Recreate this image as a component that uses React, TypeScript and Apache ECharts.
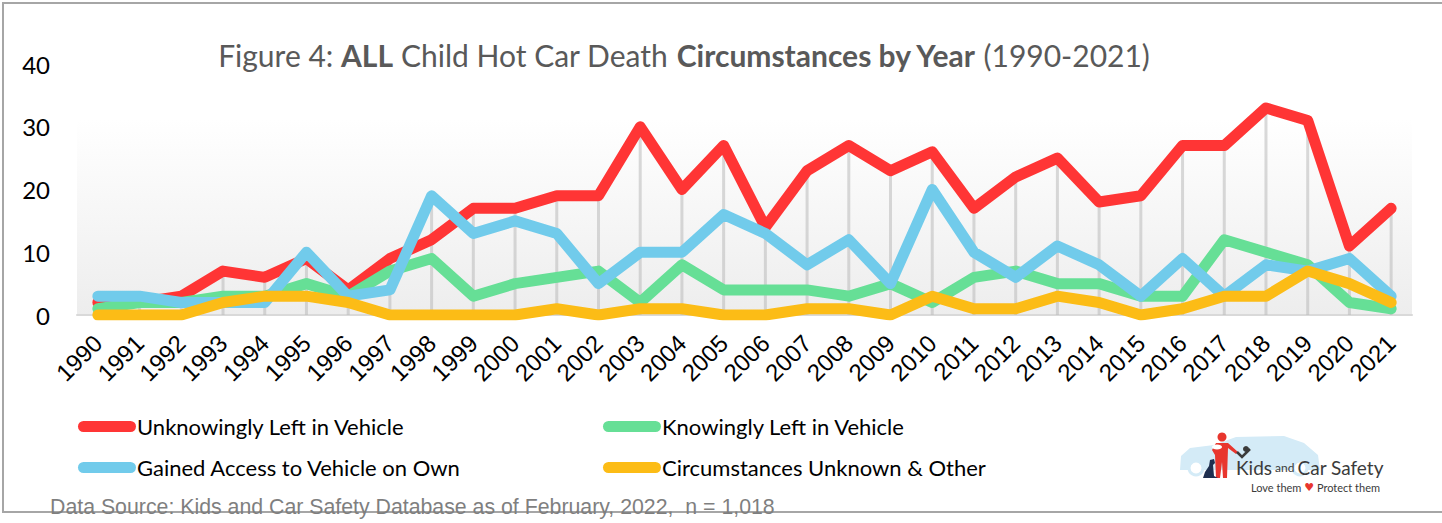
import React, { useEffect, useRef } from "react";
import * as echarts from "echarts";

const years = ["1990","1991","1992","1993","1994","1995","1996","1997","1998","1999","2000","2001","2002","2003","2004","2005","2006","2007","2008","2009","2010","2011","2012","2013","2014","2015","2016","2017","2018","2019","2020","2021"];
const unknowingly = [2,2,3,7,6,9,4,9,12,17,17,19,19,30,20,27,14,23,27,23,26,17,22,25,18,19,27,27,33,31,11,17];
const knowingly = [1,2,2,3,3,5,3,7,9,3,5,6,7,2,8,4,4,4,3,5,2,6,7,5,5,3,3,12,10,8,2,1];
const gainedAccess = [3,3,2,2,2,10,3,4,19,13,15,13,5,10,10,16,13,8,12,5,20,10,6,11,8,3,9,3,8,7,9,3];
const unknownOther = [0,0,0,2,3,3,2,0,0,0,0,1,0,1,1,0,0,1,1,0,3,1,1,3,2,0,1,3,3,7,5,2];
const yTicks = [0, 10, 20, 30, 40];

const seriesNames = [
  "Unknowingly Left in Vehicle",
  "Knowingly Left in Vehicle",
  "Gained Access to Vehicle on Own",
  "Circumstances Unknown & Other",
];
const seriesColors = ["#FF3535", "#66DF96", "#71CBEB", "#FCBC16"];

const CAL = "Lato, 'Open Sans', sans-serif";
const capsule = "path://M5.5,0 L52.5,0 A5.5,5.5 0 0 1 52.5,11 L5.5,11 A5.5,5.5 0 0 1 5.5,0 Z";

export default function App() {
  const ref = useRef<HTMLDivElement>(null);
  useEffect(() => {
    if (!ref.current) return;
    const chart = echarts.init(ref.current, null, { renderer: "svg" });
    const all = [unknowingly, knowingly, gainedAccess, unknownOther];
    const dropTops = years.map((_, i) => Math.max(...all.map((s) => s[i])));
    const lineSeries = all.map((d, i) => ({
      name: seriesNames[i],
      type: "line",
      data: d,
      symbol: "none",
      z: 3 + i,
      lineStyle: { color: seriesColors[i], width: 11, cap: "round", join: "round" },
      itemStyle: { color: seriesColors[i] },
    }));
    const legendBase = {
      orient: "vertical",
      top: 414,
      padding: 0,
      itemWidth: 58,
      itemHeight: 11,
      itemGap: 16,
      icon: capsule,
      textStyle: { fontFamily: CAL, fontSize: 22, color: "#000", lineHeight: 25, padding: [0, 0, 0, -4] },
      selectedMode: false,
    };
    chart.setOption({
      animation: false,
      backgroundColor: "#ffffff",
      title: {
        text: "{n|Figure 4: }{b|ALL}{n| Child Hot Car Death }{b|Circumstances by Year}{n| (1990-2021)}",
        left: 679,
        top: 35,
        textAlign: "center",
        textStyle: {
          rich: {
            n: { fontFamily: CAL, fontSize: 30, color: "#595959", fontWeight: "normal" },
            b: { fontFamily: CAL, fontSize: 30, color: "#595959", fontWeight: "bold" },
          },
        },
      },
      legend: [
        { ...legendBase, left: 78, data: [seriesNames[0], seriesNames[2]] },
        { ...legendBase, left: 603, data: [seriesNames[1], seriesNames[3]] },
      ],
      grid: {
        left: 77,
        right: 30,
        top: 64,
        bottom: 208,
        show: true,
        borderWidth: 0,
        backgroundColor: new echarts.graphic.LinearGradient(0, 0, 0, 1, [
          { offset: 0, color: "#ffffff" },
          { offset: 0.22, color: "#ffffff" },
          { offset: 1, color: "#ededed" },
        ]),
      },
      xAxis: {
        type: "category",
        data: years,
        boundaryGap: true,
        axisLine: { show: true, lineStyle: { color: "#d9d9d9", width: 2 } },
        axisTick: { show: false },
        axisLabel: {
          rotate: 45,
          interval: 0,
          margin: 24,
          fontFamily: "'Liberation Sans', Arial, sans-serif",
          fontSize: 24,
          color: "#000",
        },
        splitLine: { show: false },
      },
      yAxis: {
        type: "value",
        min: yTicks[0],
        max: yTicks[yTicks.length - 1],
        interval: 10,
        axisLine: { show: false },
        axisTick: { show: false },
        splitLine: { show: false },
        axisLabel: { fontFamily: CAL, fontSize: 24, color: "#000", margin: 27 },
      },
      series: [
        {
          name: "drop",
          type: "bar",
          data: dropTops,
          barWidth: 3,
          silent: true,
          z: 1,
          itemStyle: { color: "rgba(185,185,185,0.55)" },
        },
        ...lineSeries,
      ],
      graphic: [
        {
          type: "rect",
          shape: { x: 3, y: 3, width: 1445, height: 509 },
          style: { fill: "none", stroke: "#a6a6a6", lineWidth: 2 },
          silent: true,
        },
        {
          type: "text",
          x: 50,
          y: 507,
          style: {
            text: "Data Source: Kids and Car Safety Database as of February, 2022,  n = 1,018",
            fontFamily: "'Liberation Sans', Arial, sans-serif",
            fontSize: 21.3,
            fill: "#7f7f7f",
            verticalAlign: "middle",
          },
        },
        {
          type: "group",
          children: [
            {
              type: "polygon",
              shape: {
                points: [[1180, 470], [1181, 456], [1190, 448], [1214, 445], [1236, 437], [1284, 436], [1304, 443], [1318, 455], [1320, 470]],
              },
              style: { fill: "#d4ebf7" },
            },
            { type: "circle", shape: { cx: 1196, cy: 468, r: 7 }, style: { fill: "#fff", stroke: "#d4ebf7", lineWidth: 3 } },
            { type: "circle", shape: { cx: 1300, cy: 468, r: 7 }, style: { fill: "#fff", stroke: "#d4ebf7", lineWidth: 3 } },
            { type: "circle", shape: { cx: 1222, cy: 437, r: 4.5 }, style: { fill: "#e8362e" } },
            {
              type: "polygon",
              shape: { points: [[1216, 443], [1228, 443], [1238, 452], [1236, 454], [1228, 448], [1227, 478], [1223, 478], [1222, 462], [1220, 478], [1216, 478], [1215, 455], [1212, 450]] },
              style: { fill: "#e8362e" },
            },
            { type: "ellipse", shape: { cx: 1217, cy: 447, rx: 5, ry: 2.5 }, style: { fill: "#fff" } },
            { type: "circle", shape: { cx: 1246, cy: 449, r: 3 }, style: { fill: "#3b3b3b" } },
            { type: "polyline", shape: { points: [[1237, 452], [1242, 457], [1250, 449]] }, style: { stroke: "#3b3b3b", lineWidth: 2.5, fill: "none" } },
            {
              type: "polygon",
              shape: { points: [[1210, 460], [1214, 459], [1215, 463], [1213, 465], [1214, 476], [1218, 478], [1203, 478], [1205, 472], [1209, 466]] },
              style: { fill: "#1f2f4f" },
            },
            {
              type: "text",
              x: 1236,
              y: 477,
              style: {
                text: "{k|Kids}{s| and }{k|Car Safety}",
                verticalAlign: "bottom",
                rich: {
                  k: { fontFamily: CAL, fontSize: 19, fill: "#3b3b3b", fontWeight: "normal" },
                  s: { fontFamily: CAL, fontSize: 12, fill: "#3b3b3b" },
                },
              },
            },
            {
              type: "text",
              x: 1251,
              y: 487,
              style: {
                text: "{t|Love them }{h|♥}{t| Protect them}",
                verticalAlign: "middle",
                rich: {
                  t: { fontFamily: CAL, fontSize: 11, fill: "#3b3b3b" },
                  h: { fontFamily: "'DejaVu Sans', sans-serif", fontSize: 11, fill: "#e8362e" },
                },
              },
            },
          ],
        },
      ],
    });
    return () => chart.dispose();
  }, []);
  return (
    <div
      ref={ref}
      style={{ position: "fixed", left: 0, top: 0, width: 1442, height: 523, background: "#fff" }}
    />
  );
}
